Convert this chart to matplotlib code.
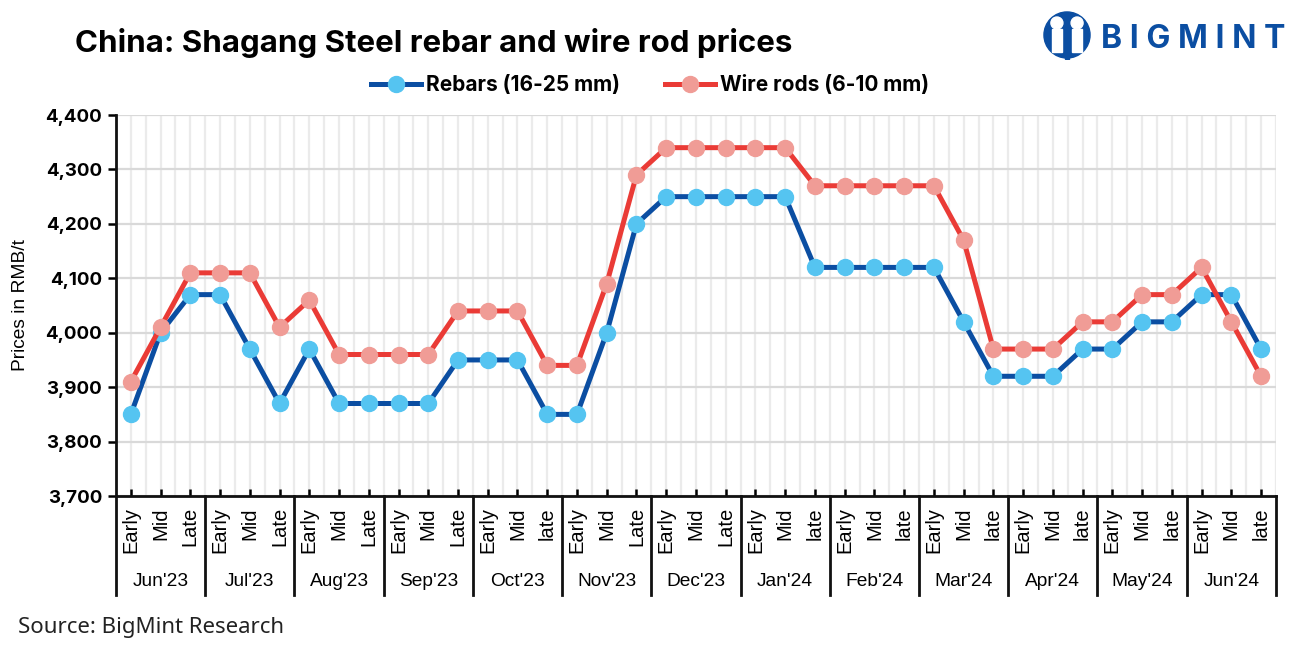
import numpy as np
import matplotlib
matplotlib.use("Agg")
import matplotlib.pyplot as plt
import matplotlib.transforms as mtransforms
from matplotlib.patches import Circle, Rectangle

# data
months = ["Jun'23", "Jul'23", "Aug'23", "Sep'23", "Oct'23", "Nov'23", "Dec'23",
          "Jan'24", "Feb'24", "Mar'24", "Apr'24", "May'24", "Jun'24"]
periods = ["Early", "Mid", "Late"] * 4 + ["Early", "Mid", "late"] + ["Early", "Mid", "Late"] * 2 \
    + ["Early", "Mid", "late"] * 6

rebars = [3850, 4000, 4070, 4070, 3970, 3870, 3970, 3870, 3870, 3870, 3870, 3950,
          3950, 3950, 3850, 3850, 4000, 4200, 4250, 4250, 4250, 4250, 4250, 4120,
          4120, 4120, 4120, 4120, 4020, 3920, 3920, 3920, 3970, 3970, 4020, 4020,
          4070, 4070, 3970]
wire_rods = [3910, 4010, 4110, 4110, 4110, 4010, 4060, 3960, 3960, 3960, 3960, 4040,
             4040, 4040, 3940, 3940, 4090, 4290, 4340, 4340, 4340, 4340, 4340, 4270,
             4270, 4270, 4270, 4270, 4170, 3970, 3970, 3970, 4020, 4020, 4070, 4070,
             4120, 4020, 3920]

x = np.arange(len(rebars))
BLUE = "#0b4ea2"

fig = plt.figure(figsize=(13, 6.49), dpi=100)
ax = fig.add_axes([0.0892, 0.2357, 0.8923, 0.5871])

# grid every half category
for gx in np.arange(-0.5, len(x), 0.5):
    ax.axvline(gx, color="#ebebeb", lw=1.6, zorder=0)
for gy in range(3700, 4401, 100):
    ax.axhline(gy, color="#d9d9d9", lw=1.6, zorder=0)

ax.plot(x, rebars, color=BLUE, lw=3.6, marker="o", ms=11.5,
        mfc="#55c4f1", mec="#55c4f1", label="Rebars (16-25 mm)", zorder=3)
ax.plot(x, wire_rods, color="#ea3b36", lw=3.6, marker="o", ms=11.5,
        mfc="#f09c96", mec="#f09c96", label="Wire rods (6-10 mm)", zorder=3)

ax.set_xlim(-0.5, len(x) - 0.5)
ax.set_ylim(3700, 4400)
ax.set_yticks(range(3700, 4401, 100))
ax.set_yticklabels([f"{v:,}" for v in range(3700, 4401, 100)],
                   fontsize=13.5, fontweight="bold", family="Inter")
ax.set_ylabel("Prices in RMB/t", fontsize=13.8, family="Liberation Sans", labelpad=12)

ax.set_xticks(x)
ax.set_xticklabels(periods, rotation=90, fontsize=14.5, family="Liberation Sans", va="top")
ax.tick_params(axis="x", direction="in", length=5, width=1.8, pad=8)
ax.tick_params(axis="y", direction="out", length=6, width=1.8, pad=4)

for s in ["top", "right"]:
    ax.spines[s].set_visible(False)
for s in ["left", "bottom"]:
    ax.spines[s].set_linewidth(2)
    ax.spines[s].set_color("#111111")

# month labels and separators under the axis
trans = mtransforms.blended_transform_factory(ax.transData, ax.transAxes)
for k, m in enumerate(months):
    ax.text(3 * k + 1, -0.225, m, transform=trans, ha="center", va="center",
            fontsize=13.8, family="Liberation Sans")
for k in range(len(months) + 1):
    ax.plot([3 * k - 0.5, 3 * k - 0.5], [0, -0.26], transform=trans,
            color="#111111", lw=2, clip_on=False)

# legend
fig.legend(loc="center", bbox_to_anchor=(0.5, 0.869), ncol=2, frameon=False,
           prop={"family": "Inter", "weight": "bold", "size": 15},
           handlelength=2.4, columnspacing=2.2, handletextpad=0.2)

# title and source
fig.text(0.058, 0.933, "China: Shagang Steel rebar and wire rod prices",
         fontsize=22.5, fontweight="bold", family="Inter", va="center")
fig.text(0.014, 0.033, "Source: BigMint Research", fontsize=16,
         family="Noto Sans", va="center", color="#222222")

# logo
lax = fig.add_axes([1043 / 1300, 1 - 60 / 649, 48 / 1300, 50 / 649])
lax.set_xlim(-1, 1)
lax.set_ylim(-1.04, 1.04)
lax.set_aspect("equal")
lax.axis("off")
lax.add_patch(Circle((0, 0), 0.96, color=BLUE))
for cx in (-0.42, 0.42):
    lax.add_patch(Circle((cx, 0.5), 0.25, color="white"))
    lax.add_patch(Rectangle((cx - 0.2, -0.7), 0.4, 0.95, color="white"))
lax.add_patch(Rectangle((-0.08, -1.0), 0.16, 1.2, color=BLUE))
fig.text(1101 / 1300, 1 - 39 / 649, "B I G M I N T", fontsize=23, fontweight="bold",
         family="Inter", color=BLUE, va="center")

fig.savefig("out.png", dpi=100)
